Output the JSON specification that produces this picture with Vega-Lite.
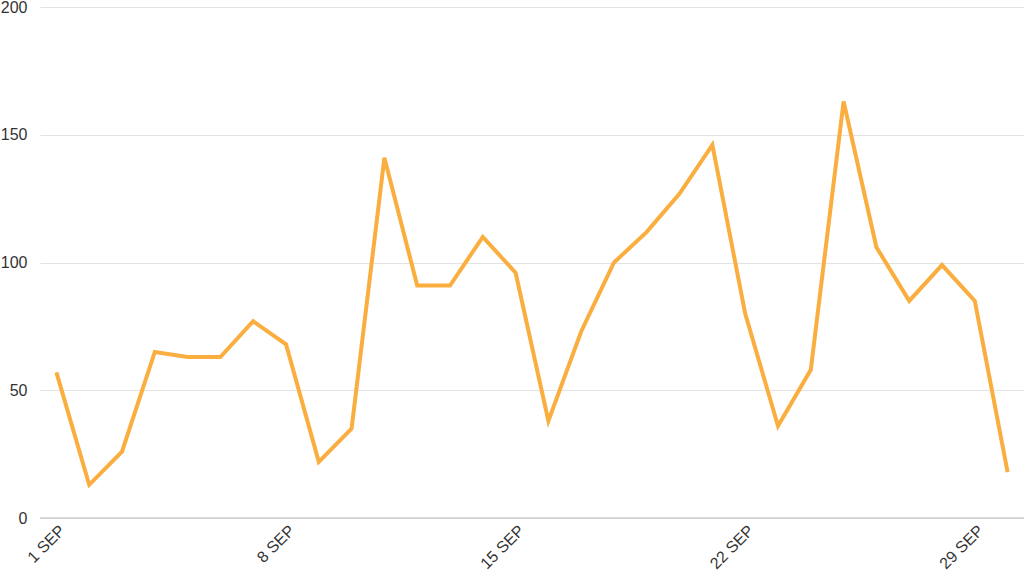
{
  "$schema": "https://vega.github.io/schema/vega-lite/v6.json",
  "width": 984,
  "height": 511,
  "autosize": "none",
  "padding": {"left": 40, "top": 7, "right": 0, "bottom": 58},
  "background": "white",
  "config": {
    "view": {"stroke": null},
    "axis": {"labelFont": "Liberation Sans", "labelFontSize": 16, "labelColor": "#333333"}
  },
  "layer": [
    {
      "data": {"values": [{"v": 0}]},
      "mark": {"type": "rule", "color": "#bbbbbb", "strokeWidth": 1},
      "encoding": {"y": {"field": "v", "type": "quantitative", "scale": {"domain": [0, 200]}}}
    },
    {
      "data": {"values": [
        {"date": "2023-09-01", "value": 57},
        {"date": "2023-09-02", "value": 13},
        {"date": "2023-09-03", "value": 26},
        {"date": "2023-09-04", "value": 65},
        {"date": "2023-09-05", "value": 63},
        {"date": "2023-09-06", "value": 63},
        {"date": "2023-09-07", "value": 77},
        {"date": "2023-09-08", "value": 68},
        {"date": "2023-09-09", "value": 22},
        {"date": "2023-09-10", "value": 35},
        {"date": "2023-09-11", "value": 141},
        {"date": "2023-09-12", "value": 91},
        {"date": "2023-09-13", "value": 91},
        {"date": "2023-09-14", "value": 110},
        {"date": "2023-09-15", "value": 96},
        {"date": "2023-09-16", "value": 38},
        {"date": "2023-09-17", "value": 73},
        {"date": "2023-09-18", "value": 100},
        {"date": "2023-09-19", "value": 112},
        {"date": "2023-09-20", "value": 127},
        {"date": "2023-09-21", "value": 146},
        {"date": "2023-09-22", "value": 80},
        {"date": "2023-09-23", "value": 36},
        {"date": "2023-09-24", "value": 58},
        {"date": "2023-09-25", "value": 163},
        {"date": "2023-09-26", "value": 106},
        {"date": "2023-09-27", "value": 85},
        {"date": "2023-09-28", "value": 99},
        {"date": "2023-09-29", "value": 85},
        {"date": "2023-09-30", "value": 18}
      ]},
      "mark": {"type": "line", "color": "#F9AE3F", "strokeWidth": 4, "strokeJoin": "miter"},
      "encoding": {
        "x": {
          "field": "date", "type": "temporal",
          "scale": {"type": "utc", "domain": [{"year": 2023, "month": 8, "date": 31, "hours": 12, "utc": true}, {"year": 2023, "month": 9, "date": 30, "hours": 12, "utc": true}]},
          "axis": {
            "title": null, "domain": false, "ticks": false, "grid": false,
            "values": [{"year": 2023, "month": 9, "date": 1, "utc": true}, {"year": 2023, "month": 9, "date": 8, "utc": true}, {"year": 2023, "month": 9, "date": 15, "utc": true}, {"year": 2023, "month": 9, "date": 22, "utc": true}, {"year": 2023, "month": 9, "date": 29, "utc": true}],
            "labelExpr": "utcFormat(datum.value, '%-d ') + upper(utcFormat(datum.value, '%b'))",
            "labelAngle": -45, "labelPadding": 4, "labelFlush": false, "labelOverlap": false
          }
        },
        "y": {
          "field": "value", "type": "quantitative",
          "scale": {"domain": [0, 200], "nice": false},
          "axis": {"title": null, "domain": false, "ticks": false, "values": [0, 50, 100, 150, 200], "gridColor": "#e3e3e3", "labelPadding": 13}
        }
      }
    }
  ]
}
